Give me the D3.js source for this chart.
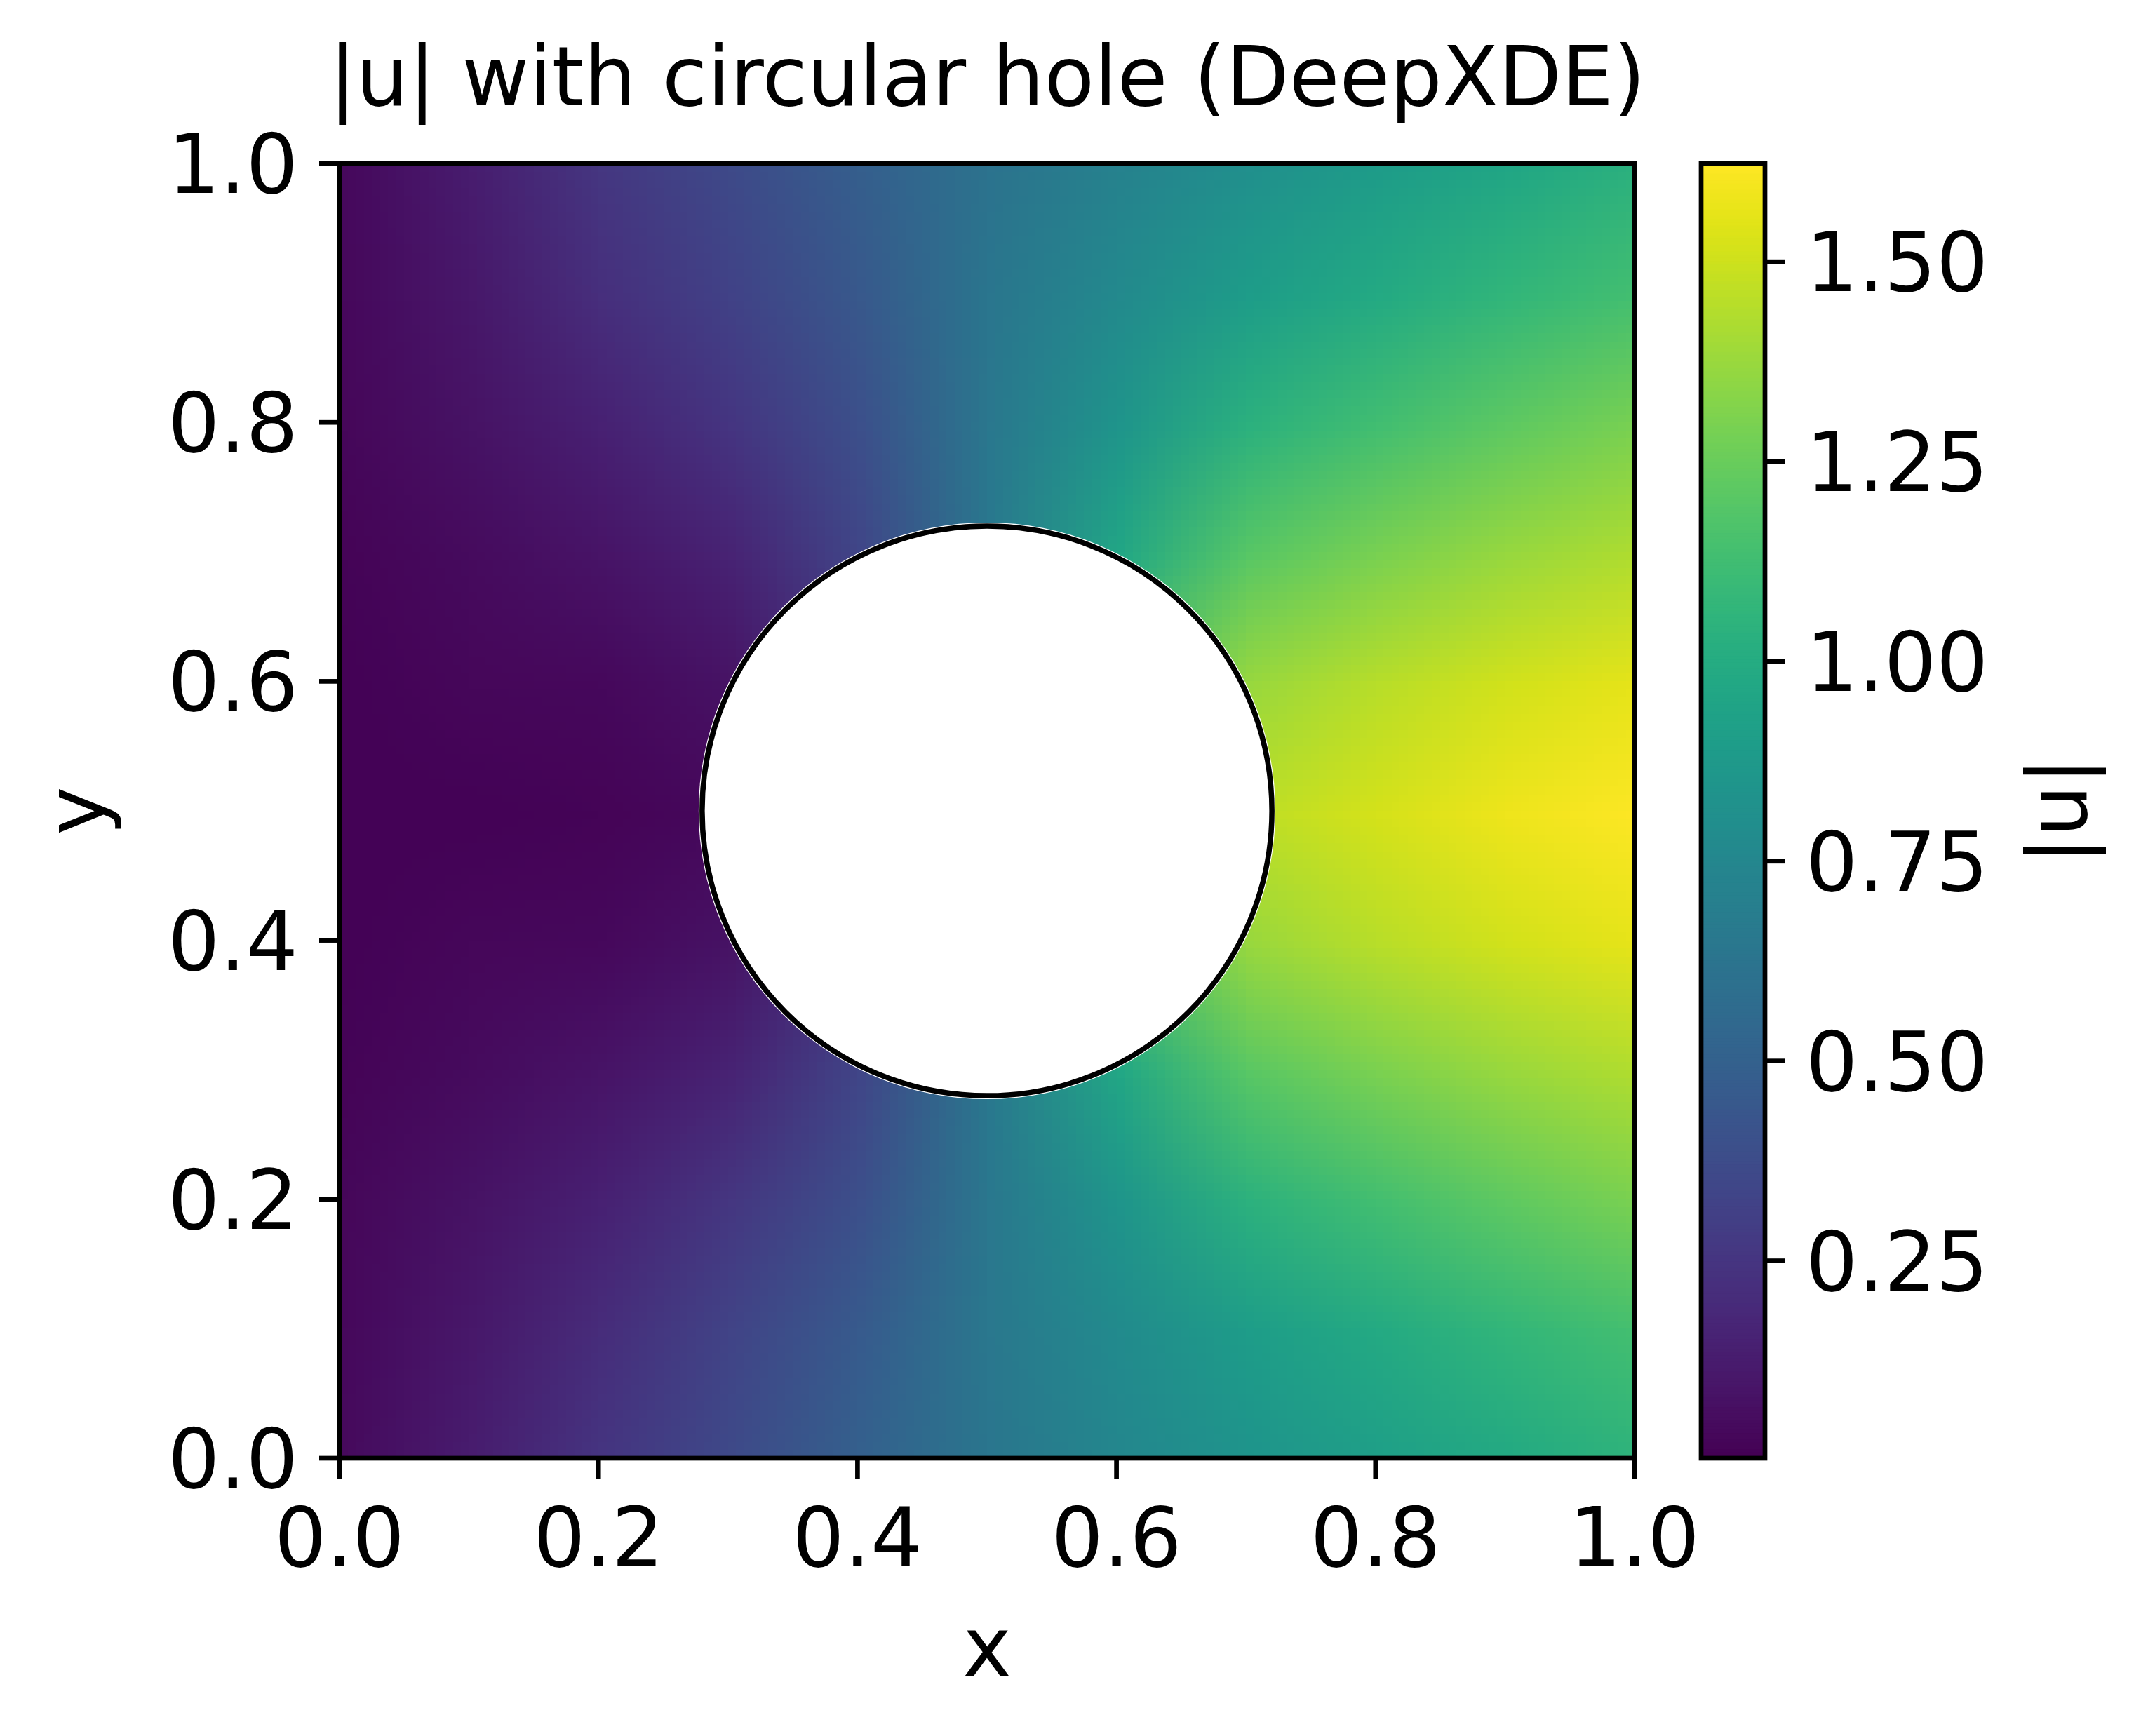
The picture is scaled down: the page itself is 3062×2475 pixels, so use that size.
<!DOCTYPE html>
<html>
<head>
<meta charset="utf-8">
<script src="https://cdn.jsdelivr.net/npm/d3@7.9.0/dist/d3.min.js"></script>
<style>
  html, body { margin: 0; padding: 0; background: #fff; }
  svg { display: block; font-family: 'DejaVu Sans', sans-serif; }
</style>
</head>
<body>
<svg id="chart" width="3062" height="2475"></svg>
<script>
// grid of |u|, rows from y = 1.0 (top) down to y = 0.0
const xGrid = [0, 0.1, 0.2, 0.3, 0.4, 0.5, 0.6, 0.7, 0.8, 0.9, 1.0];
const yGrid = [1.0, 0.9, 0.8, 0.7, 0.6, 0.5, 0.4, 0.3, 0.2, 0.1, 0];
const uGrid = [
  [0.04, 0.13, 0.26, 0.37, 0.49, 0.62, 0.72, 0.81, 0.89, 0.96, 1.04],
  [0.035, 0.11, 0.22, 0.32, 0.45, 0.64, 0.77, 0.90, 0.99, 1.07, 1.14],
  [0.03, 0.08, 0.15, 0.25, 0.40, 0.65, 0.85, 1.04, 1.13, 1.22, 1.30],
  [0.02, 0.05, 0.09, 0.16, 0.34, 0.66, 0.97, 1.20, 1.30, 1.37, 1.43],
  [0.015, 0.03, 0.04, 0.08, 0.25, 0.70, 1.16, 1.37, 1.45, 1.51, 1.56],
  [0.01, 0.01, 0.02, 0.04, 0.20, 0.75, 1.27, 1.46, 1.52, 1.58, 1.62],
  [0.015, 0.03, 0.04, 0.08, 0.25, 0.70, 1.16, 1.37, 1.45, 1.51, 1.56],
  [0.02, 0.05, 0.09, 0.16, 0.34, 0.66, 0.97, 1.20, 1.30, 1.37, 1.43],
  [0.03, 0.08, 0.15, 0.26, 0.40, 0.65, 0.85, 1.04, 1.13, 1.22, 1.30],
  [0.035, 0.11, 0.21, 0.33, 0.46, 0.65, 0.78, 0.90, 0.99, 1.07, 1.14],
  [0.045, 0.13, 0.25, 0.37, 0.50, 0.64, 0.75, 0.84, 0.91, 0.98, 1.05],
];
const holeCenter = [0.5, 0.5];
const holeRadius = 0.22;
const uRange = [0.003, 1.623];

const axisTicks = [0, 0.2, 0.4, 0.6, 0.8, 1.0];
const colorbarTicks = [0.25, 0.5, 0.75, 1.0, 1.25, 1.5];

const titleText = '|u| with circular hole (DeepXDE)';
const xLabel = 'x';
const yLabel = 'y';
const cbLabel = '|u|';

const FONT = 117;
const TICK = 29;
const LW = 6.7;

const svg = d3.select('#chart');
svg.append('rect').attr('width', 3062).attr('height', 2475).attr('fill', '#fff');

const x = d3.scaleLinear().domain([0, 1]).range([484, 2330]);
const y = d3.scaleLinear().domain([0, 1]).range([2079, 233]);
const color = d3.scaleSequential(d3.interpolateViridis).domain(uRange);

// field image: one pixel per grid point, browser smoothing in between
const canvas = document.createElement('canvas');
canvas.width = xGrid.length;
canvas.height = yGrid.length;
const ctx = canvas.getContext('2d');
uGrid.forEach((row, j) => {
  row.forEach((v, i) => {
    ctx.fillStyle = color(v);
    ctx.fillRect(i, j, 1, 1);
  });
});

const dx = (xGrid[1] - xGrid[0]) / 2;
const dy = (yGrid[0] - yGrid[1]) / 2;

svg.append('clipPath').attr('id', 'plot-clip')
  .append('rect')
  .attr('x', x(0)).attr('y', y(1))
  .attr('width', x(1) - x(0)).attr('height', y(0) - y(1));

svg.append('g').attr('clip-path', 'url(#plot-clip)')
  .append('image')
  .attr('href', canvas.toDataURL())
  .attr('x', x(xGrid[0] - dx))
  .attr('y', y(yGrid[0] + dy))
  .attr('width', x(xGrid[xGrid.length - 1] + dx) - x(xGrid[0] - dx))
  .attr('height', y(yGrid[yGrid.length - 1] - dy) - y(yGrid[0] + dy))
  .attr('preserveAspectRatio', 'none');

// the hole
const rPx = x(holeRadius) - x(0);
svg.append('circle')
  .attr('cx', x(holeCenter[0])).attr('cy', y(holeCenter[1]))
  .attr('r', rPx + 5)
  .attr('fill', '#fff');
svg.append('circle')
  .attr('cx', x(holeCenter[0])).attr('cy', y(holeCenter[1]))
  .attr('r', rPx)
  .attr('fill', '#fff')
  .attr('stroke', '#000')
  .attr('stroke-width', 7.5);

// frame
svg.append('rect')
  .attr('x', x(0)).attr('y', y(1))
  .attr('width', x(1) - x(0)).attr('height', y(0) - y(1))
  .attr('fill', 'none').attr('stroke', '#000').attr('stroke-width', LW);

// x ticks
const xt = svg.append('g');
axisTicks.forEach((t) => {
  xt.append('line')
    .attr('x1', x(t)).attr('x2', x(t))
    .attr('y1', y(0)).attr('y2', y(0) + TICK)
    .attr('stroke', '#000').attr('stroke-width', LW);
  xt.append('text')
    .attr('x', x(t)).attr('y', 2233)
    .attr('text-anchor', 'middle')
    .attr('font-size', FONT)
    .text(d3.format('.1f')(t));
});

// y ticks
const yt = svg.append('g');
axisTicks.forEach((t) => {
  yt.append('line')
    .attr('x1', x(0) - TICK).attr('x2', x(0))
    .attr('y1', y(t)).attr('y2', y(t))
    .attr('stroke', '#000').attr('stroke-width', LW);
  yt.append('text')
    .attr('x', 425).attr('y', y(t) + 42)
    .attr('text-anchor', 'end')
    .attr('font-size', FONT)
    .text(d3.format('.1f')(t));
});

// labels and title
svg.append('text')
  .attr('x', (x(0) + x(1)) / 2).attr('y', 150)
  .attr('text-anchor', 'middle').attr('font-size', FONT)
  .text(titleText);

svg.append('text')
  .attr('x', (x(0) + x(1)) / 2).attr('y', 2389)
  .attr('text-anchor', 'middle').attr('font-size', FONT)
  .text(xLabel);

svg.append('text')
  .attr('transform', `translate(148, ${(y(0) + y(1)) / 2}) rotate(-90)`)
  .attr('text-anchor', 'middle').attr('font-size', FONT)
  .text(yLabel);

// colorbar
const cbX0 = 2425;
const cbX1 = 2516;
const cb = d3.scaleLinear().domain(uRange).range([y(0), y(1)]);
const steps = d3.range(0, 400);
const cbg = svg.append('g');
cbg.selectAll('rect')
  .data(steps)
  .join('rect')
  .attr('x', cbX0)
  .attr('width', cbX1 - cbX0)
  .attr('y', (i) => cb(uRange[0] + (i + 1) * (uRange[1] - uRange[0]) / steps.length))
  .attr('height', (y(0) - y(1)) / steps.length + 1)
  .attr('fill', (i) => color(uRange[0] + (i + 0.5) * (uRange[1] - uRange[0]) / steps.length));

svg.append('rect')
  .attr('x', cbX0).attr('y', y(1))
  .attr('width', cbX1 - cbX0).attr('height', y(0) - y(1))
  .attr('fill', 'none').attr('stroke', '#000').attr('stroke-width', LW);

colorbarTicks.forEach((t) => {
  cbg.append('line')
    .attr('x1', cbX1).attr('x2', cbX1 + TICK)
    .attr('y1', cb(t)).attr('y2', cb(t))
    .attr('stroke', '#000').attr('stroke-width', LW);
  cbg.append('text')
    .attr('x', 2574).attr('y', cb(t) + 42)
    .attr('font-size', FONT)
    .text(d3.format('.2f')(t));
});

svg.append('text')
  .attr('transform', `translate(2974, ${(y(0) + y(1)) / 2}) rotate(-90)`)
  .attr('text-anchor', 'middle').attr('font-size', FONT)
  .text(cbLabel);
</script>
</body>
</html>
